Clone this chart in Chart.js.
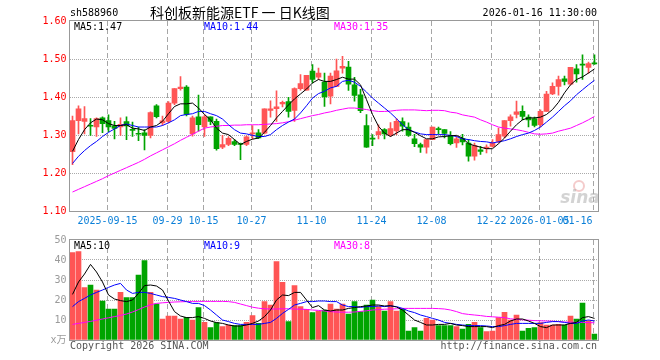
<!DOCTYPE html>
<html><head><meta charset="utf-8">
<script src="https://cdn.jsdelivr.net/npm/chart.js@4.4.1/dist/chart.umd.min.js"></script>
<style>
html,body{margin:0;padding:0;background:#fff;}
#wrap{position:relative;width:660px;height:360px;overflow:hidden;background:#fff;}
canvas{position:absolute;left:0;}
#c1{top:0;} #c2{top:230px;}
</style></head><body>
<div id="wrap"><canvas id="c1" width="660" height="230"></canvas><canvas id="c2" width="660" height="130"></canvas></div>
<script>
const dates = ['2025-09-05','2025-09-08','2025-09-09','2025-09-10','2025-09-11','2025-09-12','2025-09-15','2025-09-16','2025-09-17','2025-09-18','2025-09-19','2025-09-22','2025-09-23','2025-09-24','2025-09-25','2025-09-26','2025-09-29','2025-09-30','2025-10-09','2025-10-10','2025-10-13','2025-10-14','2025-10-15','2025-10-16','2025-10-17','2025-10-20','2025-10-21','2025-10-22','2025-10-23','2025-10-24','2025-10-27','2025-10-28','2025-10-29','2025-10-30','2025-10-31','2025-11-03','2025-11-04','2025-11-05','2025-11-06','2025-11-07','2025-11-10','2025-11-11','2025-11-12','2025-11-13','2025-11-14','2025-11-17','2025-11-18','2025-11-19','2025-11-20','2025-11-21','2025-11-24','2025-11-25','2025-11-26','2025-11-27','2025-11-28','2025-12-01','2025-12-02','2025-12-03','2025-12-04','2025-12-05','2025-12-08','2025-12-09','2025-12-10','2025-12-11','2025-12-12','2025-12-15','2025-12-16','2025-12-17','2025-12-18','2025-12-19','2025-12-22','2025-12-23','2025-12-24','2025-12-25','2025-12-26','2025-12-29','2025-12-30','2025-12-31','2026-01-05','2026-01-06','2026-01-07','2026-01-08','2026-01-09','2026-01-12','2026-01-13','2026-01-14','2026-01-15','2026-01-16'];

const open  = [1.256,1.338,1.336,1.325,1.321,1.345,1.338,1.324,1.321,1.335,1.313,1.303,1.306,1.299,1.377,1.332,1.336,1.384,1.422,1.426,1.303,1.348,1.321,1.348,1.336,1.268,1.275,1.283,1.276,1.275,1.303,1.306,1.305,1.365,1.369,1.382,1.388,1.365,1.422,1.418,1.468,1.452,1.439,1.402,1.428,1.476,1.479,1.432,1.406,1.325,1.291,1.301,1.314,1.299,1.311,1.335,1.321,1.290,1.275,1.268,1.288,1.315,1.314,1.299,1.279,1.291,1.279,1.244,1.261,1.264,1.270,1.283,1.297,1.338,1.354,1.362,1.347,1.343,1.327,1.362,1.408,1.428,1.448,1.434,1.474,1.486,1.478,1.489];
const high  = [1.350,1.377,1.375,1.343,1.345,1.348,1.353,1.336,1.345,1.348,1.334,1.321,1.314,1.361,1.380,1.350,1.388,1.422,1.454,1.430,1.350,1.405,1.353,1.348,1.342,1.299,1.296,1.288,1.279,1.298,1.325,1.314,1.369,1.390,1.416,1.389,1.399,1.424,1.459,1.457,1.485,1.476,1.463,1.463,1.500,1.507,1.494,1.452,1.420,1.354,1.301,1.327,1.317,1.333,1.343,1.345,1.332,1.302,1.279,1.288,1.321,1.321,1.314,1.309,1.296,1.302,1.288,1.279,1.270,1.274,1.288,1.318,1.338,1.353,1.389,1.377,1.353,1.347,1.366,1.415,1.437,1.455,1.455,1.478,1.485,1.511,1.492,1.511];
const low   = [1.222,1.303,1.303,1.299,1.296,1.306,1.308,1.290,1.299,1.288,1.296,1.285,1.261,1.292,1.345,1.326,1.332,1.380,1.418,1.350,1.297,1.310,1.296,1.327,1.260,1.264,1.272,1.272,1.235,1.272,1.290,1.291,1.303,1.347,1.336,1.374,1.347,1.336,1.418,1.418,1.437,1.446,1.375,1.382,1.428,1.463,1.417,1.389,1.359,1.267,1.272,1.290,1.290,1.296,1.301,1.310,1.296,1.269,1.254,1.252,1.288,1.303,1.292,1.274,1.267,1.274,1.231,1.234,1.249,1.253,1.268,1.279,1.292,1.323,1.345,1.340,1.321,1.321,1.321,1.362,1.406,1.405,1.432,1.432,1.439,1.446,1.463,1.486];
const close = [1.338,1.369,1.343,1.323,1.343,1.330,1.321,1.317,1.328,1.324,1.312,1.302,1.299,1.359,1.348,1.337,1.384,1.422,1.426,1.354,1.345,1.327,1.348,1.336,1.264,1.275,1.291,1.275,1.275,1.295,1.306,1.292,1.369,1.369,1.374,1.386,1.362,1.422,1.435,1.457,1.446,1.463,1.400,1.455,1.469,1.481,1.434,1.404,1.364,1.268,1.289,1.309,1.303,1.317,1.336,1.323,1.299,1.277,1.268,1.288,1.321,1.314,1.304,1.277,1.290,1.282,1.244,1.272,1.257,1.268,1.279,1.301,1.338,1.348,1.361,1.349,1.340,1.325,1.362,1.408,1.428,1.446,1.441,1.478,1.461,1.484,1.488,1.487];

const ma5  = [1.257,1.288,1.314,1.332,1.342,1.340,1.330,1.325,1.325,1.327,1.318,1.316,1.312,1.321,1.325,1.336,1.356,1.375,1.382,1.382,1.384,1.371,1.354,1.340,1.318,1.305,1.301,1.288,1.275,1.283,1.289,1.292,1.307,1.325,1.345,1.362,1.379,1.395,1.408,1.421,1.437,1.446,1.441,1.441,1.446,1.452,1.447,1.447,1.432,1.393,1.354,1.323,1.305,1.296,1.305,1.314,1.314,1.307,1.298,1.290,1.290,1.295,1.296,1.298,1.299,1.292,1.277,1.272,1.268,1.264,1.264,1.277,1.292,1.310,1.327,1.340,1.345,1.345,1.347,1.354,1.367,1.386,1.411,1.432,1.446,1.453,1.463,1.474];
const ma10 = [1.225,1.244,1.259,1.272,1.283,1.296,1.307,1.316,1.325,1.329,1.325,1.321,1.321,1.321,1.321,1.325,1.332,1.340,1.351,1.354,1.356,1.362,1.362,1.356,1.351,1.342,1.327,1.314,1.305,1.303,1.299,1.296,1.296,1.301,1.314,1.325,1.334,1.342,1.358,1.377,1.397,1.409,1.415,1.424,1.428,1.441,1.444,1.439,1.428,1.413,1.397,1.384,1.371,1.358,1.343,1.327,1.314,1.308,1.303,1.301,1.301,1.301,1.301,1.299,1.296,1.290,1.288,1.285,1.283,1.282,1.279,1.282,1.285,1.290,1.296,1.301,1.305,1.312,1.321,1.334,1.347,1.362,1.377,1.390,1.406,1.419,1.432,1.444];
const ma30 = [1.150,1.157,1.164,1.171,1.178,1.185,1.193,1.200,1.207,1.214,1.221,1.228,1.236,1.245,1.253,1.261,1.269,1.277,1.286,1.294,1.302,1.310,1.318,1.321,1.323,1.325,1.325,1.326,1.326,1.327,1.327,1.327,1.328,1.329,1.330,1.332,1.335,1.339,1.343,1.347,1.351,1.354,1.358,1.361,1.365,1.368,1.371,1.371,1.369,1.367,1.364,1.362,1.362,1.363,1.365,1.366,1.366,1.366,1.365,1.364,1.365,1.365,1.364,1.360,1.358,1.353,1.350,1.347,1.340,1.334,1.327,1.321,1.318,1.316,1.314,1.311,1.307,1.303,1.302,1.303,1.305,1.310,1.314,1.318,1.325,1.332,1.340,1.349];

const volume = [43.7,44.2,26.2,27.5,25,19.5,15.5,15.5,23.8,21.2,21.2,32.5,39.7,23.8,18,10.5,12,12,10.5,11.3,10,16.2,8.8,6.2,8.7,6.7,7.5,7.2,7.2,8.8,12.2,8.3,19.2,17.5,39.2,28.8,9.2,27.2,16.7,15.3,13.7,14.5,15,18,15.5,18,13,19.2,14.2,17.5,20,16.7,14.5,19.2,14.5,15.5,4.5,6.2,4.5,10.8,10,7.2,7.2,7.2,6.7,5.5,7.8,8.8,6.2,4.2,4.5,11.2,13.8,10,12.5,4.5,5.8,6.2,8.7,7.5,7.5,7.8,7.5,12,10.5,18.5,9.5,3];
const vma5  = [22.8,29,33,37.8,34,29,22.5,20.5,19.7,19.2,20,23.3,27.2,27.5,27,25,19.5,14.2,12,11.2,11.2,11.7,10.8,9.5,8.7,8.3,7.5,7,7,7.5,8.3,9.5,11.7,15,20,22.5,22.2,23.8,23.8,20,16.2,17.2,15,14.5,15,15,15.8,16.2,16.7,17,17.5,17.5,17,17.2,16.5,15,12.5,10,8.8,7.5,7.5,7.8,7.8,8.3,7.5,7.2,6.7,6.7,6.7,6.7,6.2,7.2,7.8,9.5,10.5,10.5,9.5,8.3,6.7,6.2,7.5,7.5,7.5,8.3,8.8,11.2,11.7,10.8];
const vma10 = [16.7,19.2,20.8,22.5,23.8,25,26.3,27.5,28.3,25,23.3,23.8,23.8,23.3,22.5,21.7,21.3,20.8,20,19.2,18.3,18.3,17.2,15,12.5,10,9.2,8.3,7.8,7.8,7.8,7.8,8.3,8.8,10.8,13.3,15.3,17.5,18.3,19.2,19.2,19.5,19.5,19.2,19.2,17.5,16.7,16.7,16.3,16.7,16.7,17,16.7,17,16.7,15.8,14.5,13.7,12.5,11.7,10.8,10,8.8,8.3,7.8,7.5,7.2,7.2,7.2,7,6.7,6.7,7.2,7.8,8.3,8.3,8.3,8.3,8.3,8.8,9.2,9.2,8.8,8.3,8.3,9.5,10,9.5];
const vma30 = [7.8,8.3,8.8,9.3,9.9,10.5,11.1,11.7,12.3,13.0,14.0,15.2,16.5,17.6,18.3,18.6,18.8,19.0,19.1,19.2,19.3,19.3,19.3,19.3,19.3,19.3,19.2,18.8,18.0,17.2,16.4,15.9,15.6,15.5,15.5,15.6,15.6,15.5,15.4,15.3,15.0,14.8,14.5,14.2,14.0,13.9,13.9,14.0,14.3,14.6,15.0,15.2,15.4,15.5,15.6,15.8,15.8,15.8,15.8,15.8,15.8,15.7,15.5,15.0,14.2,13.2,12.8,12.5,12.2,11.8,11.6,11.4,11.2,10.6,10.3,10.1,9.9,9.7,9.6,9.5,9.4,9.2,9.0,8.9,8.8,8.8,8.7,8.6];

const priceLegend = ['MA5:1.47', 'MA10:1.44', 'MA30:1.35'];
const volLegend = ['MA5:10', 'MA10:9', 'MA30:8'];
const tickDates = ['2025-09-15','2025-09-29','2025-10-15','2025-10-27','2025-11-10','2025-11-24','2025-12-08','2025-12-22','2026-01-05','2026-01-16'];
const tickTexts = ['2025-09-15','09-29','10-15','10-27','11-10','11-24','12-08','12-22','2026-01-05','01-16'];
const priceTicks = [1.10,1.20,1.30,1.40,1.50,1.60];
const volTicks = [0,10,20,30,40,50];

const UP = '#FF5555', DN = '#00A400';
const MA_COLORS = ['#000000', '#0000FF', '#FF00FF'];
const MONO = '10px "DejaVu Sans Mono", "Liberation Mono", monospace';
const colors = close.map((c,i) => c >= open[i] ? UP : DN);

function txt(ctx, s, x, y, color, font, align){
  ctx.save(); ctx.fillStyle = color; ctx.font = font; ctx.textAlign = align || 'left';
  ctx.textBaseline = 'middle'; ctx.fillText(s, x, y); ctx.restore();
}
function vGrid(chart){
  const {ctx, chartArea:a, scales:{x}} = chart;
  ctx.save(); ctx.strokeStyle = '#a6a6a6'; ctx.lineWidth = 1; ctx.setLineDash([5,3]);
  tickDates.forEach(d => {
    const px = Math.round(x.getPixelForValue(dates.indexOf(d)) - 2) + 0.5;
    ctx.beginPath(); ctx.moveTo(px, a.top); ctx.lineTo(px, a.bottom); ctx.stroke();
  });
  ctx.restore();
}
function frame(chart){
  const {ctx, chartArea:a} = chart;
  ctx.save(); ctx.strokeStyle = '#999'; ctx.lineWidth = 1;
  ctx.strokeRect(Math.round(a.left)-0.5, Math.round(a.top)-0.5, Math.round(a.right-a.left)+1, Math.round(a.bottom-a.top)+1);
  ctx.restore();
}
function legends(ctx, items, y){
  const xs = [74, 204, 334];
  items.forEach((s,k) => txt(ctx, s, xs[k], y, MA_COLORS[k], MONO));
}

const pricePlugin = {
  id: 'pricePlugin',
  beforeDatasetsDraw(chart){
    vGrid(chart);
    const ctx = chart.ctx;
    ctx.save();
    ctx.strokeStyle = 'rgba(230,140,140,0.45)'; ctx.lineWidth = 2;
    ctx.beginPath(); ctx.arc(579, 186, 5, 0, Math.PI*2); ctx.stroke();
    ctx.restore();
    txt(ctx, 'sina', 580, 199, 'rgba(175,175,175,0.55)', 'italic bold 17px "DejaVu Sans", sans-serif', 'center');
  },
  afterDatasetsDraw(chart){ frame(chart); },
  afterDraw(chart){
    const {ctx, chartArea:a, scales:{x}} = chart;
    txt(ctx, 'sh588960', 70, 13, '#000', MONO);
    txt(ctx, '科创板新能源ETF 一 日K线图', 150, 12.5, '#000', '14px "Noto Sans CJK SC", sans-serif');
    txt(ctx, '2026-01-16 11:30:00', 597, 13, '#000', MONO, 'right');
    legends(ctx, priceLegend, 27);
    ctx.save(); ctx.font = MONO;
    tickDates.forEach((d,k) => {
      const px = Math.round(x.getPixelForValue(dates.indexOf(d)) - 2) + 0.5;
      const w = ctx.measureText(tickTexts[k]).width;
      if (px + w/2 > a.right) txt(ctx, tickTexts[k], px - 1, 221, '#0A7FD8', MONO, 'right');
      else txt(ctx, tickTexts[k], px, 221, '#0A7FD8', MONO, 'center');
    });
    ctx.restore();
  }
};
const volPlugin = {
  id: 'volPlugin',
  beforeDatasetsDraw(chart){ vGrid(chart); },
  afterDatasetsDraw(chart){ frame(chart); },
  afterDraw(chart){
    const ctx = chart.ctx;
    legends(ctx, volLegend, 16);
    txt(ctx, 'Copyright 2026 SINA.COM', 70, 116, '#555', MONO);
    txt(ctx, 'http://finance.sina.com.cn', 597, 116, '#555', MONO, 'right');
  }
};

const fitLeft = s => { s.width = 69.5; };
const lineDs = (data, color) => ({type:'line', data, borderColor:color, borderWidth:1, pointRadius:0, tension:0, order:0, fill:false});

new Chart(document.getElementById('c1'), {
  type: 'bar',
  data: {
    labels: dates,
    datasets: [
      {data: low.map((l,i) => [l, high[i]]), backgroundColor: colors, barThickness: 1, grouped: false, order: 2, borderWidth: 0},
      {data: open.map((o,i) => [Math.min(o, close[i]), Math.max(o, close[i])]), backgroundColor: colors, barThickness: 5, minBarLength: 1, grouped: false, order: 1, borderWidth: 0},
      lineDs(ma5, MA_COLORS[0]), lineDs(ma10, MA_COLORS[1]), lineDs(ma30, MA_COLORS[2])
    ]
  },
  options: {
    responsive: false, animation: false, devicePixelRatio: 1,
    layout: {padding: {left: 0, right: 62.5, top: 21, bottom: 19}},
    plugins: {legend: {display: false}, tooltip: {enabled: false}},
    scales: {
      x: {display: false, offset: true, grid: {display: false}},
      y: {
        min: priceTicks[0], max: priceTicks[priceTicks.length-1],
        afterFit: fitLeft,
        afterBuildTicks: s => { s.ticks = priceTicks.map(v => ({value: v})); },
        ticks: {color: '#FF0000', font: {family: '"DejaVu Sans Mono", monospace', size: 10}, padding: 3, callback: v => Number(v).toFixed(2)},
        grid: {drawTicks: false, color: c => (c.tick && (c.tick.value <= priceTicks[0] || c.tick.value >= priceTicks[priceTicks.length-1])) ? 'rgba(0,0,0,0)' : '#aaaaaa', lineWidth: 1},
        border: {display: false, dash: [1,1]}
      }
    }
  },
  plugins: [pricePlugin]
});

new Chart(document.getElementById('c2'), {
  type: 'bar',
  data: {
    labels: dates,
    datasets: [
      {data: volume, backgroundColor: colors, barThickness: 5, order: 1, borderWidth: 0},
      lineDs(vma5, MA_COLORS[0]), lineDs(vma10, MA_COLORS[1]), lineDs(vma30, MA_COLORS[2])
    ]
  },
  options: {
    responsive: false, animation: false, devicePixelRatio: 1,
    layout: {padding: {left: 0, right: 62.5, top: 10, bottom: 20}},
    plugins: {legend: {display: false}, tooltip: {enabled: false}},
    scales: {
      x: {display: false, offset: true, grid: {display: false}},
      y: {
        min: volTicks[0], max: volTicks[volTicks.length-1],
        afterFit: fitLeft,
        afterBuildTicks: s => { s.ticks = volTicks.map(v => ({value: v})); },
        ticks: {color: '#9a9a9a', font: {family: '"DejaVu Sans Mono", "Noto Sans CJK SC", monospace', size: 10}, padding: 3, callback: v => v === 0 ? 'x万' : String(v)},
        grid: {drawTicks: false, color: c => (c.tick && (c.tick.value <= volTicks[0] || c.tick.value >= volTicks[volTicks.length-1])) ? 'rgba(0,0,0,0)' : '#aaaaaa', lineWidth: 1},
        border: {display: false, dash: [1,1]}
      }
    }
  },
  plugins: [volPlugin]
});
</script>
</body></html>
